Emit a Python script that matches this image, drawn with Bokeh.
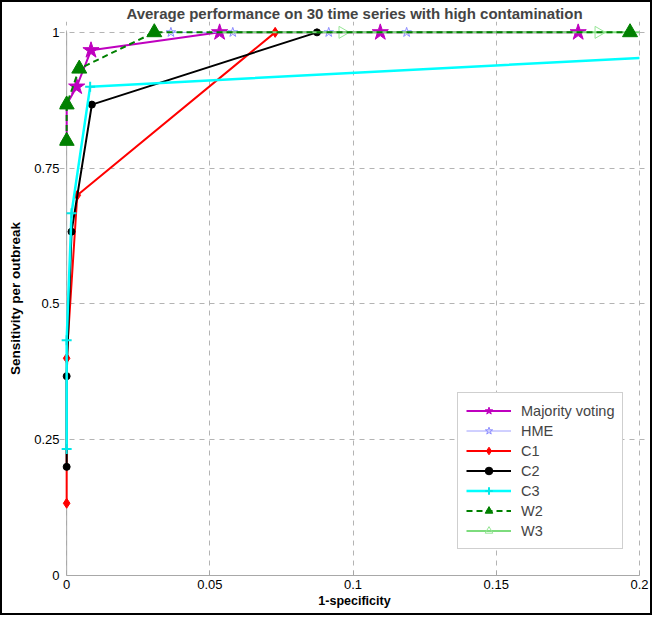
import numpy as np
from bokeh.plotting import figure
from bokeh.models import Range1d, FixedTicker, Legend, LegendItem
from bokeh.embed import file_html
from bokeh.resources import INLINE

# ---- data ----
title_text = "Average performance on 30 time series with high contamination"
x_ticks = [0, 0.05, 0.1, 0.15, 0.2]
x_tick_labels = ["0", "0.05", "0.1", "0.15", "0.2"]
y_ticks = [0, 0.25, 0.5, 0.75, 1]
y_tick_labels = ["0", "0.25", "0.5", "0.75", "1"]

mv_x = [0, 0, 0.0035, 0.0085, 0.0534, 0.1095, 0.1786]
mv_y = [0.8, 0.867, 0.9, 0.967, 1, 1, 1]

hme_x = [0.0364, 0.058, 0.0915, 0.1187]
hme_y = [1, 1, 1, 1]

c1_x = [0, 0, 0.0037, 0.0728]
c1_y = [0.133, 0.4, 0.7, 1]

c2_x = [0, 0, 0.0017, 0.0088, 0.0874]
c2_y = [0.2, 0.367, 0.633, 0.867, 1]

c3_x = [0, 0, 0.0017, 0.0082, 0.2]
c3_y = [0.233, 0.433, 0.667, 0.9, 0.953]

w2_x = [0, 0, 0.0044, 0.0306, 0.1967]
w2_y = [0.8, 0.867, 0.933, 1, 1]

w3_x = [0.0534, 0.0963, 0.1857, 0.2]
w3_y = [1, 1, 1, 1]

FONT = "Liberation Sans"

# ranges slightly wider than the axes so that edge markers are not clipped
p = figure(width=652, height=615, output_backend="svg", toolbar_location=None,
           x_range=Range1d(-0.0025, 0.2035), y_range=Range1d(0, 1.02),
           min_border_left=57, min_border_right=5, min_border_top=18,
           min_border_bottom=42)
p.styles = {"border": "2px solid black"}
p.outline_line_color = None
p.background_fill_color = "white"
p.border_fill_color = "white"

p.title.text = title_text
p.title.align = "center"
p.title.text_font = FONT
p.title.text_font_size = "15px"
p.title.text_font_style = "bold"
p.title.offset = 0
p.title.standoff = 0

for ax, ticks, labels, bnds in ((p.xaxis[0], x_ticks, x_tick_labels, (0, 0.2)),
                                (p.yaxis[0], y_ticks, y_tick_labels, (0, 1))):
    ax.ticker = FixedTicker(ticks=ticks)
    ax.major_label_overrides = {t: l for t, l in zip(ticks, labels)}
    ax.bounds = bnds
    ax.axis_line_color = "#a8a8a8"
    ax.major_tick_line_color = "#a8a8a8"
    ax.major_tick_in = 5
    ax.major_tick_out = 0
    ax.minor_tick_line_color = None
    ax.major_label_text_font = FONT
    ax.major_label_text_font_size = "13px"
    ax.major_label_text_color = "black"
    ax.axis_label_text_font = FONT
    ax.axis_label_text_font_style = "bold"
    ax.axis_label_text_color = "black"

# the y axis sits at the frame edge; its visible line is drawn at x = 0 below
p.yaxis.axis_line_color = None
p.yaxis.major_tick_line_color = None
p.xaxis.axis_label = "1-specificity"
p.yaxis.axis_label = "Sensitivity per outbreak"
p.xaxis.axis_label_text_font_size = "12.5px"
p.yaxis.axis_label_text_font_size = "13.5px"
p.xaxis.major_label_standoff = 4
p.yaxis.major_label_standoff = 0
p.xaxis.axis_label_standoff = 2
p.yaxis.axis_label_standoff = 8

p.xgrid.bounds = (0, 1)
p.ygrid.bounds = (0, 0.2)
for g in (p.xgrid[0], p.ygrid[0]):
    g.grid_line_color = "#b4b4b4"
    g.grid_line_dash = "5 5"
    g.grid_line_width = 1

# y axis line at x = 0 (from the tick values)
p.segment(x0=[x_ticks[0]], y0=[y_ticks[0]], x1=[x_ticks[0]], y1=[y_ticks[-1]],
          line_color="#a8a8a8", line_width=1)

items = []

# Majority voting
r1 = p.line(mv_x, mv_y, line_color="#bf00bf", line_width=2)
r1m = p.scatter(mv_x[2:], mv_y[2:], marker="star", size=17, fill_color="#bf00bf", line_color="#bf00bf")
items.append(LegendItem(label="Majority voting", renderers=[r1, r1m]))

# HME
r2 = p.line(hme_x, hme_y, line_color="#a0a0ff", line_width=1)
r2m = p.scatter(hme_x, hme_y, marker="star", size=10, fill_color=None, line_color="#8c8cff")
items.append(LegendItem(label="HME", renderers=[r2, r2m]))

# C1
r3 = p.line(c1_x, c1_y, line_color="#ff0000", line_width=2)
r3m = p.scatter(c1_x, c1_y, marker="diamond", size=10, fill_color="#ff0000", line_color="#ff0000")
items.append(LegendItem(label="C1", renderers=[r3, r3m]))

# C2
r4 = p.line(c2_x, c2_y, line_color="black", line_width=2)
r4m = p.scatter(c2_x, c2_y, marker="circle", size=7, fill_color="black", line_color="black")
items.append(LegendItem(label="C2", renderers=[r4, r4m]))

# C3
r5 = p.line(c3_x, c3_y, line_color="#00ffff", line_width=2.5)
r5m = p.scatter(c3_x[:-1], c3_y[:-1], marker="cross", size=10, line_color="#00e8e8", line_width=2)
items.append(LegendItem(label="C3", renderers=[r5, r5m]))

# W3 (drawn under W2)
r7 = p.line(w3_x, w3_y, line_color="#7ddc7d", line_width=2)
r7m = p.scatter(w3_x[1:-1], w3_y[1:-1], marker="triangle", angle=-np.pi / 2, size=12,
                fill_color=None, line_color="#96e696")

# W2
r6 = p.line(w2_x, w2_y, line_color="#008000", line_width=2, line_dash="6 4")
r6m = p.scatter(w2_x, w2_y, marker="triangle", size=15, fill_color="#008000", line_color="#008000")
items.append(LegendItem(label="W2", renderers=[r6, r6m]))
items.append(LegendItem(label="W3", renderers=[r7, r7m]))

legend = Legend(items=items, location=(398, 26))
legend.margin = 0
legend.padding = 8
legend.spacing = 1
legend.glyph_width = 45
legend.glyph_height = 19
legend.label_height = 19
legend.label_standoff = 10
legend.label_text_font = FONT
legend.label_text_font_size = "14.5px"
legend.border_line_color = "#a0a0a0"
legend.background_fill_alpha = 1
p.add_layout(legend, "center")

open("out.html", "w").write(file_html(p, INLINE))
